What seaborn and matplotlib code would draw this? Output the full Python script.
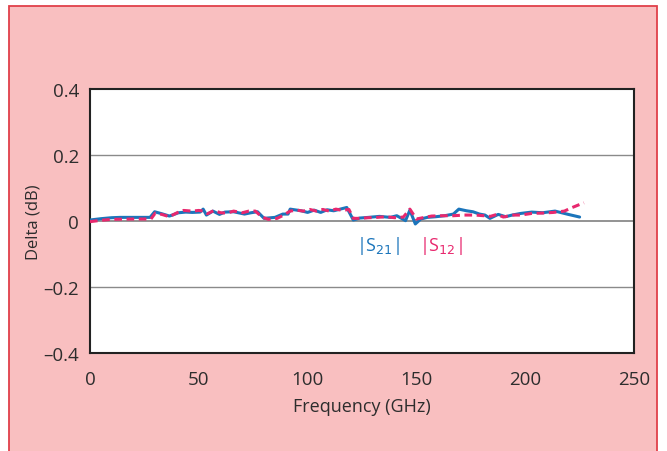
import matplotlib
matplotlib.use("Agg")
import matplotlib.pyplot as plt
import seaborn as sns
import pandas as pd
from matplotlib.patches import Rectangle

freq_s21 = [0, 5, 10, 14, 20, 27.6, 29.7, 33, 36.5, 40.7, 44, 47, 50.6, 52, 53.5, 56.5, 58, 59.5,
            62, 66, 71, 74, 77, 80, 85, 88.6, 91, 92, 97, 100, 103, 106, 109, 112, 115, 118,
            121, 124, 128, 133, 138, 141, 145, 147, 149.5, 152, 155, 159, 163, 167, 169.5, 173,
            176, 179, 181.5, 183.8, 187.6, 191, 194, 198, 203, 208, 213.7, 219.8, 225]
s21 = [0.003, 0.007, 0.010, 0.011, 0.011, 0.011, 0.028, 0.022, 0.015, 0.025, 0.027, 0.026,
       0.027, 0.036, 0.018, 0.030, 0.025, 0.020, 0.027, 0.028, 0.021, 0.025, 0.028, 0.008,
       0.011, 0.021, 0.021, 0.036, 0.031, 0.026, 0.033, 0.026, 0.034, 0.031, 0.036, 0.041,
       0.003, 0.009, 0.011, 0.014, 0.011, 0.016, 0.001, 0.033, -0.009, 0.006, 0.011, 0.013,
       0.016, 0.021, 0.036, 0.031, 0.028, 0.021, 0.018, 0.008, 0.020, 0.013, 0.018, 0.023,
       0.027, 0.025, 0.030, 0.020, 0.012]

freq_s12 = [0, 5, 10, 20, 28, 30, 33, 36.5, 40, 43, 47, 50, 52, 54, 57, 60, 63, 66, 70, 73,
            76, 79, 82, 86, 89, 92, 95, 98, 101, 104, 107, 110, 113, 116, 119, 121, 124, 128,
            132, 136, 140, 144, 147, 150, 153, 157, 162, 167, 172, 177, 181, 184, 187, 190,
            194, 198, 203, 208, 213, 218, 221.3, 225, 227]
s12 = [-0.002, 0.002, 0.005, 0.006, 0.006, 0.024, 0.020, 0.013, 0.025, 0.032, 0.030, 0.032,
       0.030, 0.022, 0.032, 0.025, 0.024, 0.030, 0.025, 0.030, 0.030, 0.012, 0.005, 0.008,
       0.018, 0.030, 0.033, 0.030, 0.035, 0.030, 0.035, 0.030, 0.036, 0.032, 0.035, 0.008,
       0.008, 0.010, 0.011, 0.013, 0.010, 0.012, 0.036, 0.006, 0.010, 0.015, 0.016, 0.016,
       0.018, 0.018, 0.016, 0.014, 0.020, 0.012, 0.018, 0.018, 0.023, 0.024, 0.026, 0.030,
       0.040, 0.050, 0.055]

x_ticks = [0, 50, 100, 150, 200, 250]
y_ticks = [-0.4, -0.2, 0, 0.2, 0.4]
y_tick_labels = ["\u20130.4", "\u20130.2", "0", "0.2", "0.4"]

sns.set_theme(style="white")
plt.rcParams['font.family'] = ['Open Sans', 'DejaVu Sans']

fig = plt.figure(figsize=(6.67, 4.52), dpi=100, facecolor="white")
fig.patches.append(Rectangle((9/667, -0.02), (657-9)/667, 1 - 7/452 + 0.02,
                             transform=fig.transFigure, facecolor="#f9bfc0",
                             edgecolor="#e0404a", linewidth=1.3, zorder=-5))
ax = fig.add_axes([90/667, 1 - 354/452, (634-90)/667, (354-90)/452])
ax.set_facecolor("white")

for yv in [-0.2, 0, 0.2]:
    ax.axhline(yv, color="#8a8a8a", lw=1.0 if yv != 0 else 1.3, zorder=1)

df21 = pd.DataFrame({"f": freq_s21, "v": s21})
df12 = pd.DataFrame({"f": freq_s12, "v": s12})
sns.lineplot(data=df21, x="f", y="v", ax=ax, color="#1b75bb", lw=2.2, zorder=3)
sns.lineplot(data=df12, x="f", y="v", ax=ax, color="#e8286e", lw=2.2, zorder=4,
             linestyle=(0, (2.5, 1.5)))

ax.set_xlim(0, 250)
ax.set_ylim(-0.4, 0.4)
ax.set_xticks(x_ticks)
ax.set_xticklabels([str(t) for t in x_ticks])
ax.set_yticks(y_ticks)
ax.set_yticklabels(y_tick_labels)
ax.tick_params(axis="x", direction="in", length=6, width=0.8, color="#777777",
               labelsize=13.5, labelcolor="#2d2d2d", pad=12)
ax.tick_params(axis="y", length=0, labelsize=13.5, labelcolor="#2d2d2d", pad=8)
ax.set_xlabel("Frequency (GHz)", fontsize=13, color="#2d2d2d", labelpad=7)
ax.set_ylabel("Delta (dB)", fontsize=12, color="#2d2d2d", labelpad=1)
for s in ax.spines.values():
    s.set_color("#222222")
    s.set_linewidth(1.5)

ax.text(132.4, -0.073, "|S$_{21}$|", color="#1b75bb", fontsize=13, ha="center", va="center")
ax.text(161.3, -0.073, "|S$_{12}$|", color="#e8286e", fontsize=13, ha="center", va="center")

fig.savefig("out.png", dpi=100, facecolor=fig.get_facecolor())
